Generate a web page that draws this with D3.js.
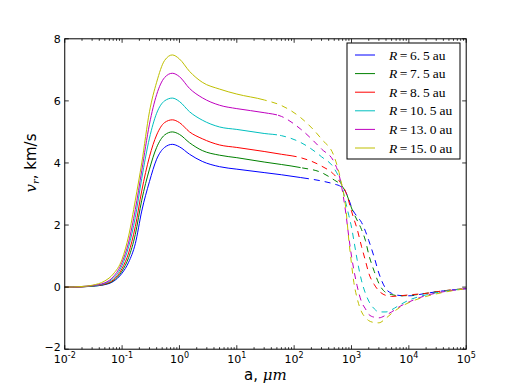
<!DOCTYPE html>
<html><head><meta charset="utf-8">
<script src="https://cdn.jsdelivr.net/npm/d3@7"></script>
<style>body{margin:0;background:#fff}svg{display:block}</style>
</head><body>
<script>
// ---- data ----
const aGrid = [0.01,0.02,0.03,0.05,0.07,0.1,0.13,0.17,0.22,0.3,0.4,0.55,0.75,1,1.5,2.5,5,10,30,60,130,300,500,650,800,900,1000,1100,1250,1500,1750,2000,2500,3000,4000,5000,7000,10000,20000,40000,100000];
const seriesLabels = ["6.5","7.5","8.5","10.5","13.0","15.0"];
const seriesColors = ["#0000ff","#008000","#ff0000","#00bfbf","#bf00bf","#bfbf00"];
const solidUntil = [180,130,95,50,50,30];
const vR65  = [0,0.01,0.03,0.08,0.18,0.45,0.8,1.4,2.45,3.4,4.12,4.5,4.6,4.52,4.28,4.05,3.88,3.8,3.69,3.62,3.53,3.42,3.32,3.24,3.05,2.82,2.58,2.42,2.28,2.08,1.8,1.5,0.95,0.45,-0.06,-0.2,-0.27,-0.28,-0.2,-0.12,-0.05];
const vR75  = [0,0.01,0.03,0.09,0.2,0.52,0.95,1.7,2.8,3.8,4.5,4.9,5.0,4.92,4.65,4.4,4.25,4.17,4.03,3.95,3.85,3.69,3.45,3.3,3.05,2.8,2.55,2.37,2.16,1.85,1.5,1.05,0.5,0.12,-0.18,-0.24,-0.28,-0.27,-0.2,-0.12,-0.05];
const vR85  = [0,0.01,0.04,0.1,0.23,0.6,1.1,1.95,3.1,4.2,4.9,5.3,5.39,5.3,5.0,4.78,4.58,4.5,4.37,4.28,4.17,3.9,3.62,3.35,3.05,2.75,2.45,2.2,1.88,1.3,0.85,0.45,0.08,-0.12,-0.27,-0.3,-0.28,-0.25,-0.2,-0.12,-0.05];
const vR105 = [0,0.02,0.04,0.12,0.28,0.7,1.3,2.25,3.5,4.8,5.6,6.0,6.09,5.98,5.65,5.38,5.16,5.08,4.95,4.88,4.66,4.2,3.82,3.38,2.7,2.3,1.93,1.5,0.9,0.2,-0.2,-0.45,-0.7,-0.8,-0.8,-0.73,-0.57,-0.42,-0.25,-0.14,-0.05];
const vR130 = [0,0.02,0.05,0.14,0.33,0.8,1.45,2.5,3.75,5.25,6.2,6.75,6.89,6.78,6.4,6.1,5.86,5.75,5.62,5.5,5.09,4.45,4.02,3.38,2.35,1.6,1.0,0.55,0.05,-0.48,-0.7,-0.88,-0.97,-0.99,-0.9,-0.8,-0.62,-0.48,-0.27,-0.15,-0.05];
const vR150 = [0,0.02,0.06,0.2,0.42,0.9,1.65,2.8,4.0,5.65,6.6,7.3,7.48,7.35,6.95,6.6,6.38,6.22,6.03,5.85,5.46,4.77,4.2,3.45,2.5,1.5,0.75,0.15,-0.35,-0.8,-0.98,-1.08,-1.14,-1.15,-1.0,-0.85,-0.65,-0.5,-0.3,-0.17,-0.05];
const seriesValues = [vR65,vR75,vR85,vR105,vR130,vR150];
const yTicks = [-2,0,2,4,6,8];
const xTickExps = [-2,-1,0,1,2,3,4,5];

// ---- layout ----
const W=518,H=388;
const L=64.75,R=466.2,T=38.8,B=349.2;
const svg=d3.select("body").append("svg").attr("width",W).attr("height",H);
const x=d3.scaleLog().domain([1e-2,1e5]).range([L,R]);
const y=d3.scaleLinear().domain([-2,8]).range([B,T]);

const defs=svg.append("defs");
const line=d3.line().x(d=>x(d[0])).y(d=>y(d[1])).curve(d3.curveMonotoneX);

seriesValues.forEach((vals,i)=>{
  const pts=aGrid.map((a,j)=>[a,vals[j]]);
  const xs=x(solidUntil[i]);
  defs.append("clipPath").attr("id","cs"+i).append("rect").attr("x",0).attr("y",0).attr("width",xs).attr("height",H);
  defs.append("clipPath").attr("id","cd"+i).append("rect").attr("x",xs).attr("y",0).attr("width",W-xs).attr("height",H);
  svg.append("path").attr("d",line(pts)).attr("fill","none").attr("stroke",seriesColors[i]).attr("stroke-width",1).attr("clip-path","url(#cs"+i+")");
  svg.append("path").attr("d",line(pts)).attr("fill","none").attr("stroke",seriesColors[i]).attr("stroke-width",1).attr("stroke-dasharray","6,5").attr("clip-path","url(#cd"+i+")");
});

// frame
svg.append("rect").attr("x",L).attr("y",T).attr("width",R-L).attr("height",B-T).attr("fill","none").attr("stroke","#000").attr("stroke-width",1);

// ticks
const tk=svg.append("g").attr("stroke","#000").attr("stroke-width",0.8);
xTickExps.forEach(e=>{
  const px=x(Math.pow(10,e));
  tk.append("line").attr("x1",px).attr("x2",px).attr("y1",B).attr("y2",B-4);
  tk.append("line").attr("x1",px).attr("x2",px).attr("y1",T).attr("y2",T+4);
  if(e<5){for(let m=2;m<=9;m++){const p=x(m*Math.pow(10,e));
    tk.append("line").attr("x1",p).attr("x2",p).attr("y1",B).attr("y2",B-2);
    tk.append("line").attr("x1",p).attr("x2",p).attr("y1",T).attr("y2",T+2);}}
});
yTicks.forEach(v=>{
  const py=y(v);
  tk.append("line").attr("x1",L).attr("x2",L+4).attr("y1",py).attr("y2",py);
  tk.append("line").attr("x1",R).attr("x2",R-4).attr("y1",py).attr("y2",py);
});

// tick labels
const font="DejaVu Sans";
yTicks.forEach(v=>{
  svg.append("text").attr("x",L-4).attr("y",y(v)+(v<0?2:4)).attr("text-anchor","end")
    .attr("font-family",font).attr("font-size",11).text(v<0?"\u2212"+Math.abs(v):v);
});
xTickExps.forEach(e=>{
  const t=svg.append("text").attr("x",x(Math.pow(10,e))).attr("y",363).attr("text-anchor","middle")
    .attr("font-family",font).attr("font-size",11);
  t.append("tspan").text("10");
  t.append("tspan").attr("dy",-5).attr("font-size",8).text(e<0?"-"+Math.abs(e):e);
});

// axis labels
const xl=svg.append("text").attr("x",(L+R)/2).attr("y",380).attr("text-anchor","middle")
  .attr("font-family",font).attr("font-size",15);
xl.append("tspan").text("a, ");
xl.append("tspan").attr("font-family","DejaVu Serif").attr("font-style","italic").text("\u03bcm");

const yl=svg.append("text").attr("transform","translate(36,163) rotate(-90)").attr("text-anchor","middle")
  .attr("font-family",font).attr("font-size",15);
yl.append("tspan").attr("font-family","DejaVu Serif").attr("font-style","italic").text("v");
yl.append("tspan").attr("font-family","DejaVu Serif").attr("font-style","italic").attr("font-size",10).attr("dy",3).text("r");
yl.append("tspan").attr("dy",-3).text(", km/s");

// legend
const lg=svg.append("g");
lg.append("rect").attr("x",347).attr("y",43).attr("width",113).attr("height",116).attr("fill","#fff").attr("stroke","#000").attr("stroke-width",1);
seriesLabels.forEach((lab,i)=>{
  const ry=55+i*18.6;
  lg.append("line").attr("x1",355).attr("x2",375).attr("y1",ry).attr("y2",ry).attr("stroke",seriesColors[i]).attr("stroke-width",1);
  const t=lg.append("text").attr("x",389).attr("y",ry+4.5).attr("font-family","Liberation Serif").attr("font-size",13.5);
  t.append("tspan").attr("font-style","italic").text("R");
  t.append("tspan").attr("dx",2.5).text("=");
  const parts=lab.split(".");
  t.append("tspan").attr("dx",2.5).text(parts[0]+".");
  t.append("tspan").attr("dx",3).text(parts[1]);
  t.append("tspan").attr("dx",3).text("au");
});
</script>
</body></html>
